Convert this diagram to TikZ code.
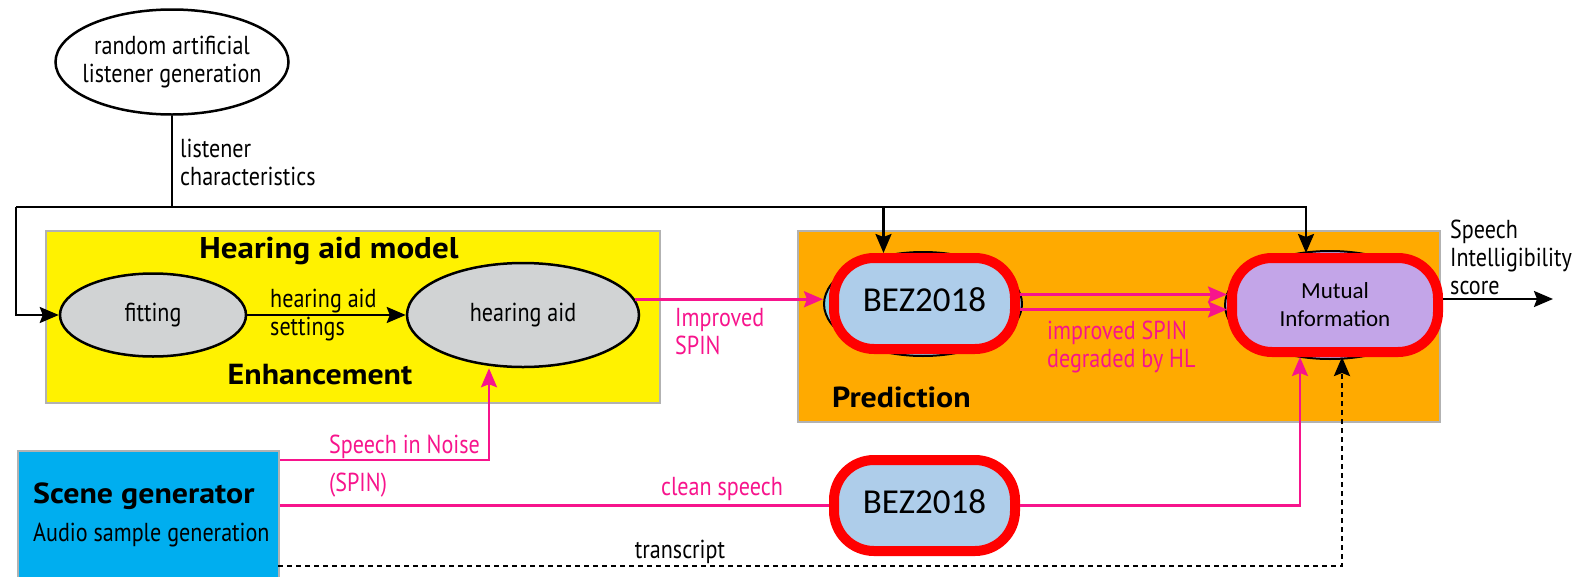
\documentclass[tikz,border=0pt]{standalone}
\usepackage{fontspec}
\setmainfont{PT Sans}
\newfontfamily\narrowfont{PT Sans}[FakeStretch=0.85]
\newfontfamily\headfont{PT Sans}[FakeStretch=1.1]
\newfontfamily\calfont{Carlito}
\usetikzlibrary{shapes.geometric,arrows.meta,positioning}

\definecolor{hayellow}{HTML}{FFF200}
\definecolor{prorange}{HTML}{FFAA00}
\definecolor{hagray}{HTML}{D1D3D4}
\definecolor{spinpink}{HTML}{F7148C}
\definecolor{bezblue}{HTML}{AECDEA}
\definecolor{bezcyan}{HTML}{86D0E4}
\definecolor{milav}{HTML}{C3A5E8}
\definecolor{scenecyan}{HTML}{00AEEF}

\tikzset{
  panel/.style={rectangle,draw=gray!60,line width=2pt,inner sep=0pt,anchor=north west},
  blob/.style={ellipse,draw,line width=2.5pt,fill=hagray,inner sep=0pt,
    font=\narrowfont\fontsize{26}{28}\selectfont},
  halo/.style={ellipse,draw,line width=2pt,inner sep=0pt},
  model/.style={rectangle,rounded corners=40pt,draw=red,line width=10pt,inner sep=0pt},
  wire/.style={line width=2.5pt},
  spin/.style={wire,draw=spinpink},
  tip/.style={-{Stealth[length=19pt,width=16pt,inset=3pt]}},
  txt/.style={font=\narrowfont\fontsize{26}{28}\selectfont,inner sep=0pt,align=left},
  head/.style={font=\headfont\bfseries\fontsize{29}{30}\selectfont,inner sep=0pt},
}

\begin{document}
\begin{tikzpicture}[x=1pt,y=-1pt]
\useasboundingbox (0,0) rectangle (1583,576);

% coloured panels
\node[panel,fill=hayellow,minimum width=614pt,minimum height=172pt] (enh) at (45,230) {};
\node[panel,fill=prorange,minimum width=642pt,minimum height=191pt] (pred) at (797,230) {};
\node[panel,fill=scenecyan,minimum width=261pt,minimum height=140pt] (scene) at (17,450) {};

% listener generation
\node[blob,fill=white,inner xsep=-10pt,minimum width=233pt,minimum height=105pt,align=center]
  (gen) at (172,62) {random artificial\\listener generation};
\node[txt,anchor=west] (lchar) at (180,162) {listener\\characteristics};
\coordinate (tl) at (16,207);

% enhancement stage
\node[blob,minimum width=186pt,minimum height=83pt] (fit) at (153,315) {fitting};
\node[blob,minimum width=232pt,minimum height=104pt] (ha) at (523,315) {hearing aid};
\node[head,font=\headfont\bfseries\fontsize{30}{32}\selectfont,anchor=base] (thead) at (329,258) {Hearing aid model};
\node[head,anchor=base] (tenh) at (320,384) {Enhancement};
\node[txt,anchor=west] (lset) at (270,315) {hearing aid\\settings};

% prediction stage
\node[halo,fill=bezcyan,minimum width=198pt,minimum height=104pt] (bez1e) at (923,304) {};
\node[model,fill=bezblue,minimum width=181pt,minimum height=91pt,text depth=8pt,
  font=\calfont\fontsize{35}{36}\selectfont] (bez1) at (924.5,303.5) {BEZ2018};
\node[halo,fill=milav,minimum width=210pt,minimum height=108pt] (mie) at (1330,305) {};
\node[model,fill=milav,minimum width=206pt,minimum height=94pt,align=center,
  font=\calfont\fontsize{23}{28}\selectfont] (mi) at (1335,305) {Mutual\\Information};
\node[head,anchor=base west] (tpred) at (832,407) {Prediction};
\node[txt,text=spinpink,anchor=west] (ldeg) at (1047,347) {improved SPIN\\degraded by HL};

% reference path
\node[model,fill=bezblue,minimum width=181pt,minimum height=91pt,text depth=8pt,
  font=\calfont\fontsize{35}{36}\selectfont] (bez2) at (924.5,505.5) {BEZ2018};

% scene generator
\node[head,anchor=base west] (tscene) at (33,503) {Scene generator};
\node[txt,anchor=base west] (lscene) at (33,541) {Audio sample generation};

% listener bus
\draw[wire] (gen) -- (gen |- tl);
\draw[wire,tip] (tl) |- (fit);
\draw[wire,tip] (tl) -| ([xshift=-29pt]mi.north);
\draw[wire,tip] ([xshift=-41pt]bez1.north |- tl) -- ([xshift=-41pt]bez1.north);
\draw[wire,tip] (fit) -- (ha);

% signal paths
\draw[spin,tip] ([yshift=-10pt]scene.north east) -| ([xshift=-34pt]ha.south);
\node[txt,text=spinpink,anchor=base west] (lsin) at (329,453) {Speech in Noise};
\node[txt,text=spinpink,anchor=base west] (lspin) at (329,491) {(SPIN)};
\draw[spin,tip] (ha.8) -- (ha.8 -| bez1e.west);
\node[txt,text=spinpink,anchor=west] (limp) at (675,332) {Improved\\SPIN};
\draw[spin,tip] ([yshift=9pt]bez1.east) -- ([yshift=9pt]bez1.east -| mi.west);
\draw[spin,tip] ([yshift=-6pt]bez1.east) -- ([yshift=-6pt]bez1.east -| mi.west);
\draw[spin] (bez2 -| scene.east) -- (bez2);
\node[txt,text=spinpink,anchor=base] (lclean) at (722,495) {clean speech};
\draw[spin,tip] (bez2) -| ([xshift=-35pt]mi.south);

% transcript
\coordinate (trs) at (278,566);
\draw[wire,dash pattern=on 5pt off 4pt,tip] (trs) -| ([xshift=7pt]mi.south);
\node[txt,anchor=base] (ltr) at (680,558) {transcript};

% output
\coordinate (score) at (1553,299);
\draw[wire,tip] (mi.east |- score) -- (score);
\node[txt,anchor=west] (lscore) at (1450,257) {Speech\\Intelligibility\\score};
\end{tikzpicture}
\end{document}
